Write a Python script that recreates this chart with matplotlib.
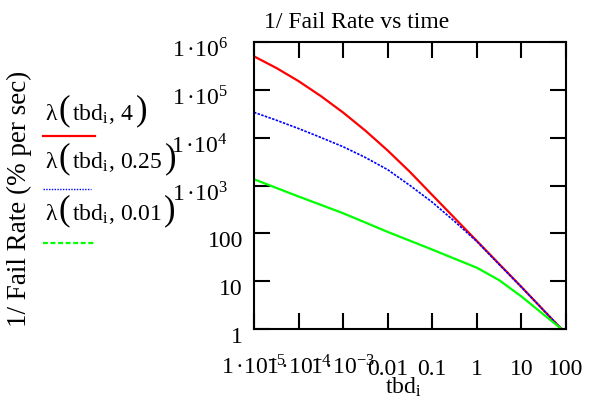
import numpy as np
import matplotlib
matplotlib.use("Agg")
import matplotlib.pyplot as plt
from matplotlib.lines import Line2D
from matplotlib.transforms import ScaledTranslation

plt.rcParams['font.family'] = ['Liberation Serif', 'DejaVu Serif']
plt.rcParams['mathtext.fontset'] = 'stix'

# time between demands (sec)
tbd = [1e-5, 3.16e-5, 1e-4, 3.16e-4, 1e-3, 3.16e-3, 0.01, 0.0316,
       0.1, 0.316, 1, 3.16, 10, 31.6, 79.4]

# 1 / fail rate for the three parameter values
lam_4 = [5.01e5, 2.87e5, 1.52e5, 7.41e4, 3.35e4, 1.40e4, 5.38e3, 1.92e3,
         631, 209, 69.2, 22.9, 7.59, 2.45, 1.0]
lam_025 = [3.39e4, 2.32e4, 1.55e4, 1.01e4, 6.46e3, 3.85e3, 2.14e3, 1.0e3,
           447, 178, 67.6, 22.4, 7.50, 2.45, 1.0]
lam_001 = [1.35e3, 891, 589, 394, 263, 168, 107, 70.0,
           45.7, 29.5, 19.1, 10.5, 4.79, 2.0, 1.0]

params = ['4', '0.25', '0.01']

xticks = [1e-5, 1e-4, 1e-3, 0.01, 0.1, 1, 10, 100]
xlabels = [r'$\mathregular{1\,·10}^{\mathregular{-5}}$',
           r'$\mathregular{1\,·10}^{\mathregular{-4}}$',
           r'$\mathregular{1\,·10}^{\mathregular{-3}}$',
           '0.01', '0.1', '1', '10', '100']
yticks = [1, 10, 100, 1e3, 1e4, 1e5, 1e6]
ylabels = ['1', '10', '100',
           r'$\mathregular{1\,·10}^{\mathregular{3}}$',
           r'$\mathregular{1\,·10}^{\mathregular{4}}$',
           r'$\mathregular{1\,·10}^{\mathregular{5}}$',
           r'$\mathregular{1\,·10}^{\mathregular{6}}$']

W, H = 602, 404
fig = plt.figure(figsize=(W / 100, H / 100), dpi=100)
ax = fig.add_axes([254 / W, 1 - 329 / H, 312 / W, 287 / H])

ax.plot(tbd, lam_4, color='#ff0000', lw=1.6, solid_capstyle='butt')
ax.plot(tbd, lam_025, color='#0000ff', lw=1.2, linestyle=(0, (1.5, 0.8)))
ax.plot(tbd, lam_001, color='#00ff00', lw=1.6)

ax.set_xscale('log')
ax.set_yscale('log')
ax.set_xlim(1e-5, 100)
ax.set_ylim(1, 1e6)
ax.minorticks_off()

ax.set_xticks(xticks)
ax.set_xticklabels(xlabels, fontsize=17)
ax.set_yticks(yticks)
ax.set_yticklabels(ylabels, fontsize=17)

ax.tick_params(which='major', direction='in', length=11.5, width=1.5,
               top=True, right=True, color='black')
ax.tick_params(axis='x', pad=33)
ax.tick_params(axis='y', pad=8)
for s in ax.spines.values():
    s.set_linewidth(1.5)

for lbl in ax.get_xticklabels():
    lbl.set_verticalalignment('baseline')

for lbl, val in zip(ax.get_yticklabels(), yticks):
    dx = -15 / 100 if val >= 1e3 else 0
    lbl.set_transform(lbl.get_transform() +
                      ScaledTranslation(dx, -6 / 100, fig.dpi_scale_trans))

fig.text(357 / W, 1 - 28 / H, '1/ Fail Rate vs time', fontsize=17,
         ha='center', va='baseline')
fig.text(403 / W, 1 - 394 / H, r'$\mathregular{tbd}_\mathregular{i}$',
         fontsize=17, ha='center', va='baseline')
fig.text(19 / W, 1 - 199 / H, '1/ Fail Rate (% per sec)', fontsize=19.5,
         rotation=90, ha='center', va='center')

# legend: "λ( tbd_i, p )" with tall brackets, then a short line sample
renderer = fig.canvas.get_renderer()
styles = [dict(color='#ff0000', lw=1.6),
          dict(color='#0000ff', lw=1.0, linestyle=(0, (1, 1))),
          dict(color='#00ff00', lw=1.6, linestyle=(0, (2.2, 1.2)))]
baselines = [120, 168, 220]
line_y = [136, 189, 243]
line_end = [95, 91, 95]

for p, st, yb, yl, xe in zip(params, styles, baselines, line_y, line_end):
    yf = 1 - yb / H
    fig.text(45 / W, yf, 'λ', fontsize=17, va='baseline')
    fig.text(59 / W, yf + 1 / H, '(', fontsize=25, va='baseline')
    body = fig.text(72 / W, yf, r'tbd$_\mathregular{i}$, ' + p,
                    fontsize=17, va='baseline')
    x1 = body.get_window_extent(renderer).x1
    fig.text((x1 + 2) / W, yf + 1 / H, ')', fontsize=25, va='baseline')
    fig.add_artist(Line2D([43 / W, xe / W], [1 - yl / H] * 2,
                          transform=fig.transFigure, **st))

fig.savefig('out.png', dpi=100)
